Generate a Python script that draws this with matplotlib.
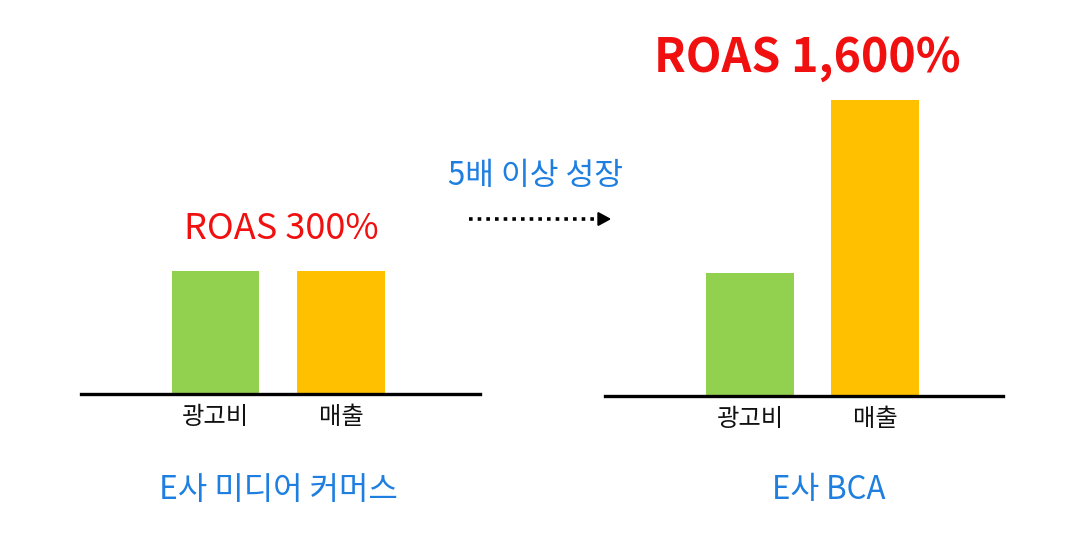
import matplotlib
matplotlib.use("Agg")
import matplotlib.pyplot as plt
from matplotlib.lines import Line2D

plt.rcParams['font.family'] = ['Noto Sans CJK KR', 'DejaVu Sans']

categories = ['광고비', '매출']
left_values = [1.0, 1.0]
right_values = [1.0, 2.41]
left_title = 'ROAS 300%'
right_title = 'ROAS 1,600%'
left_caption = 'E사 미디어 커머스'
right_caption = 'E사 BCA'
middle_text = '5배 이상 성장'

colors = ['#92D050', '#FFC000']
red = '#F01010'
blue = '#1E7FE0'

W, H = 1081, 551
fig = plt.figure(figsize=(W / 100, H / 100), dpi=100)

unit_px = 123.0
ax_h_px = 3.0 * unit_px


def make_axes(x0, x1, ybottom):
    return fig.add_axes([x0 / W, (H - ybottom) / H, (x1 - x0) / W, ax_h_px / H])


axL = make_axes(81, 480, 394)
axR = make_axes(605, 1003, 396)

for ax, vals, xl, title, tw, fs, dx, dy in [
    (axL, left_values, (-1.072, 2.108), left_title, 'normal', 26, 2, 30),
    (axR, right_values, (-1.16, 2.024), right_title, 'bold', 33.5, -4, 30),
]:
    xs = list(range(len(categories)))
    ax.bar(xs, vals, width=0.70, color=colors)
    ax.set_xlim(*xl)
    ax.set_ylim(0, 3.0)
    for s in ['top', 'right', 'left']:
        ax.spines[s].set_visible(False)
    ax.spines['bottom'].set_linewidth(2.4)
    ax.spines['bottom'].set_color('black')
    ax.set_yticks([])
    ax.set_xticks(xs)
    ax.set_xticklabels(categories, fontsize=17.5)
    ax.tick_params(axis='x', length=0, pad=7, colors='#111111')
    ax.patch.set_alpha(0)
    ax.annotate(title, xy=(0.5, max(vals)), xytext=(dx, dy), textcoords='offset points',
                ha='center', va='center', color=red, fontsize=fs, fontweight=tw)

# captions
fig.text(278 / W, 1 - 490 / H, left_caption, ha='center', va='center',
         color=blue, fontsize=23)
fig.text(829 / W, 1 - 490 / H, right_caption, ha='center', va='center',
         color=blue, fontsize=22.5)

# middle text and dotted arrow
fig.text(536 / W, 1 - 176 / H, middle_text, ha='center', va='center',
         color=blue, fontsize=22.5, fontweight='medium')
fig.add_artist(Line2D([469 / W, 604 / W], [1 - 219 / H, 1 - 219 / H],
                      transform=fig.transFigure, color='black', linewidth=2.6,
                      linestyle=(0, (1.0, 1.4)), dash_capstyle='butt'))
fig.add_artist(matplotlib.patches.FancyArrowPatch(
    (600 / W, 1 - 219 / H), (614 / W, 1 - 219 / H), transform=fig.transFigure,
    arrowstyle='-|>,head_length=0.55,head_width=0.3', color='black',
    linewidth=1.5, mutation_scale=14))

fig.savefig('out.png', dpi=100, facecolor='white')
